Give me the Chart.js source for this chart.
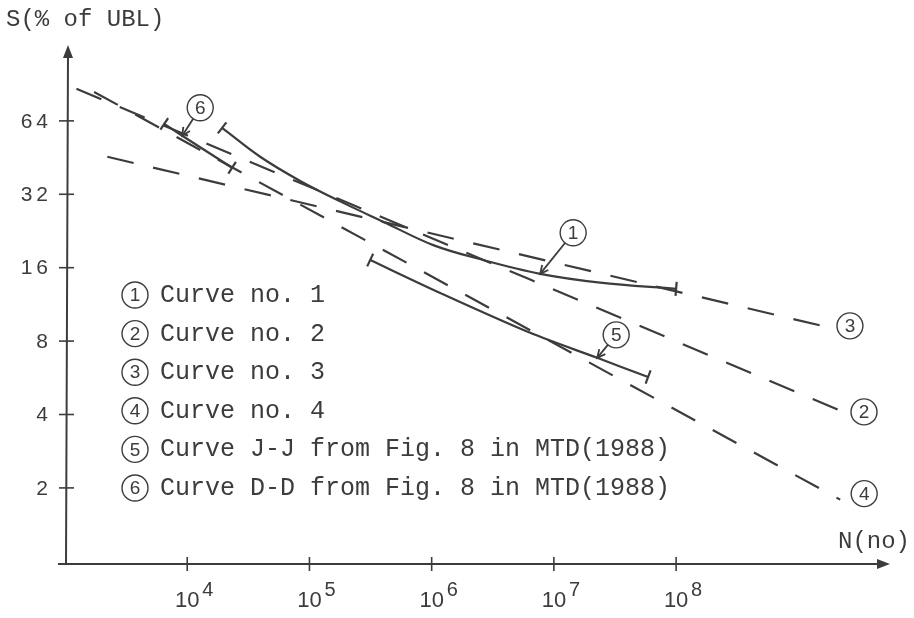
<!DOCTYPE html>
<html>
<head>
<meta charset="utf-8">
<script src="https://cdn.jsdelivr.net/npm/chart.js@4/dist/chart.umd.min.js"></script>
<style>
  html, body { margin: 0; padding: 0; background: #fff; }
</style>
</head>
<body>
<canvas id="sn" width="914" height="618"></canvas>
<script>
// S-N curves: stress range S (% of UBL) against number of cycles N, log-log

// curve 1 (solid, design curve)
const N1 = [19300, 39500, 84000, 189000, 401000, 1030000, 2640000, 7720000, 23900000, 100000000];
const S1 = [59.9, 45.6, 36.3, 29.5, 24.7, 19.8, 17.2, 15.1, 13.9, 13.1];
// curves 2-4 (dashed, straight lines)
const N2 = [1240, 6400000, 2320000000];
const S2 = [86.6, 14.3, 4.10];
const N3 = [2220, 1560000000];
const S3 = [45.6, 9.24];
const N4 = [1730, 2200000000];
const S4 = [84.1, 1.79];
// curve J-J and D-D from MTD (1988)
const N5 = [314000, 1175000, 6400000, 22600000, 59000000];
const S5 = [17.2, 12.6, 8.65, 6.83, 5.70];
const N6 = [6490, 9100, 23300];
const S6 = [62.2, 55.6, 41.1];

const X_TICKS = [1e4, 1e5, 1e6, 1e7, 1e8];
const Y_TICKS = [2, 4, 8, 16, 32, 64];
const LEGEND = [
  'Curve no. 1',
  'Curve no. 2',
  'Curve no. 3',
  'Curve no. 4',
  'Curve J-J from Fig. 8 in MTD(1988)',
  'Curve D-D from Fig. 8 in MTD(1988)'
];

const INK = '#3c3c3c';
const MONO = '"Liberation Mono", "DejaVu Sans Mono", monospace';
const SANS = '"Liberation Sans", Arial, sans-serif';

// numbered callouts: which dataset/point they sit on and where the circle goes
const CALLOUTS = [
  { num: '1', ds: 0, idx: 7, dx: 33, dy: -41, arrow: true },
  { num: '2', ds: 1, idx: -1, dx: 21, dy: 0 },
  { num: '3', ds: 2, idx: -1, dx: 28, dy: 0 },
  { num: '4', ds: 3, idx: -1, dx: 24, dy: -6 },
  { num: '5', ds: 4, idx: 3, dx: 19, dy: -23, arrow: true },
  { num: '6', ds: 5, idx: 1, dx: 18, dy: -28, arrow: true }
];

const pts = (N, S) => N.map((n, i) => ({ x: n, y: S[i] }));

// end bars sit perpendicular to the curve
function capRotation(ctx) {
  const d = ctx.dataset.data, i = ctx.dataIndex, n = d.length;
  const { x, y } = ctx.chart.scales;
  const p = i === 0 ? d[0] : d[n - 2];
  const q = i === 0 ? d[1] : d[n - 1];
  const a = Math.atan2(y.getPixelForValue(q.y) - y.getPixelForValue(p.y),
                       x.getPixelForValue(q.x) - x.getPixelForValue(p.x));
  return a * 180 / Math.PI + 90;
}
const capRadius = ctx => (ctx.dataIndex === 0 || ctx.dataIndex === ctx.dataset.data.length - 1) ? 7 : 0;

function solid(N, S, tension) {
  return {
    data: pts(N, S), borderColor: INK, borderWidth: 2.2, tension,
    pointStyle: 'line', pointRadius: capRadius, pointBorderWidth: 2.2,
    pointBorderColor: INK, pointRotation: capRotation
  };
}
function dashed(N, S) {
  return {
    data: pts(N, S), borderColor: INK, borderWidth: 2.2, borderDash: [27, 20],
    pointRadius: 0, tension: 0
  };
}

function circled(ctx, cx, cy, num, r) {
  ctx.beginPath();
  ctx.arc(cx, cy, r, 0, Math.PI * 2);
  ctx.lineWidth = 1.4;
  ctx.strokeStyle = INK;
  ctx.stroke();
  ctx.fillStyle = INK;
  ctx.font = '19px ' + SANS;
  ctx.textAlign = 'center';
  ctx.textBaseline = 'middle';
  ctx.fillText(num, cx, cy + 1);
}

const paperAxes = {
  id: 'paperAxes',
  beforeDatasetsDraw(chart) {
    const { ctx } = chart;
    const xs = chart.scales.x, ys = chart.scales.y;
    const x0 = xs.getPixelForValue(xs.min) + 1, y0 = ys.getPixelForValue(ys.min);
    const xEnd = xs.getPixelForValue(xs.max), yEnd = ys.getPixelForValue(ys.max);
    ctx.save();
    ctx.strokeStyle = INK;
    ctx.fillStyle = INK;
    ctx.lineWidth = 2;
    ctx.beginPath();
    ctx.moveTo(x0 - 8, y0); ctx.lineTo(xEnd - 8, y0);
    ctx.moveTo(x0, y0); ctx.lineTo(x0 + 2, yEnd + 8);
    ctx.stroke();
    // arrow heads
    ctx.beginPath();
    ctx.moveTo(xEnd, y0); ctx.lineTo(xEnd - 13, y0 - 5); ctx.lineTo(xEnd - 13, y0 + 5); ctx.closePath();
    ctx.fill();
    ctx.beginPath();
    ctx.moveTo(x0 + 2, yEnd); ctx.lineTo(x0 - 3, yEnd + 13); ctx.lineTo(x0 + 7, yEnd + 13); ctx.closePath();
    ctx.fill();

    ctx.lineWidth = 1.6;
    ctx.font = '21px ' + SANS;
    ctx.letterSpacing = '4px';
    ctx.textAlign = 'right';
    ctx.textBaseline = 'middle';
    Y_TICKS.forEach(v => {
      const py = ys.getPixelForValue(v);
      ctx.beginPath(); ctx.moveTo(x0 - 7, py); ctx.lineTo(x0 + 8, py); ctx.stroke();
      ctx.fillText(String(v), x0 - 14, py + 1);
    });
    ctx.letterSpacing = '0px';
    X_TICKS.forEach(v => {
      const px = xs.getPixelForValue(v);
      ctx.beginPath(); ctx.moveTo(px, y0 - 7); ctx.lineTo(px, y0 + 7); ctx.stroke();
      ctx.textAlign = 'center';
      ctx.textBaseline = 'alphabetic';
      ctx.font = '22px ' + SANS;
      ctx.fillText('10', px, 607);
      ctx.textAlign = 'left';
      ctx.font = '20px ' + SANS;
      ctx.fillText(String(Math.round(Math.log10(v))), px + 15, 596);
    });

    ctx.font = '24px ' + MONO;
    ctx.textAlign = 'left';
    ctx.fillText('S(% of UBL)', 6, 26);
    ctx.textAlign = 'right';
    ctx.fillText('N(no)', 910, 548);
    ctx.restore();
  },
  afterDatasetsDraw(chart) {
    const { ctx } = chart;
    ctx.save();
    CALLOUTS.forEach(c => {
      const meta = chart.getDatasetMeta(c.ds);
      const el = meta.data[c.idx < 0 ? meta.data.length - 1 : c.idx];
      const cx = el.x + c.dx, cy = el.y + c.dy, r = 13;
      circled(ctx, cx, cy, c.num, r);
      if (c.arrow) {
        const a = Math.atan2(el.y - cy, el.x - cx);
        const sx = cx + r * Math.cos(a), sy = cy + r * Math.sin(a);
        ctx.beginPath();
        ctx.moveTo(sx, sy); ctx.lineTo(el.x, el.y);
        ctx.lineWidth = 1.8;
        ctx.stroke();
        ctx.beginPath();
        ctx.moveTo(el.x - 9 * Math.cos(a - 0.45), el.y - 9 * Math.sin(a - 0.45));
        ctx.lineTo(el.x, el.y);
        ctx.lineTo(el.x - 9 * Math.cos(a + 0.45), el.y - 9 * Math.sin(a + 0.45));
        ctx.stroke();
      }
    });
    // legend block
    LEGEND.forEach((t, i) => {
      const y = 302 + i * 38.6;
      circled(ctx, 135, y - 7, String(i + 1), 13);
      ctx.font = '25px ' + MONO;
      ctx.textAlign = 'left';
      ctx.textBaseline = 'alphabetic';
      ctx.fillStyle = INK;
      ctx.fillText(t, 160, y);
    });
    ctx.restore();
  }
};

new Chart(document.getElementById('sn'), {
  type: 'line',
  data: {
    datasets: [
      solid(N1, S1, 0.35),
      dashed(N2, S2),
      dashed(N3, S3),
      dashed(N4, S4),
      solid(N5, S5, 0.3),
      solid(N6, S6, 0)
    ]
  },
  options: {
    responsive: false,
    animation: false,
    devicePixelRatio: 1,
    layout: { padding: { left: 65, right: 24, top: 45, bottom: 54 } },
    plugins: { legend: { display: false }, tooltip: { enabled: false } },
    scales: {
      x: { type: 'logarithmic', min: 1000, max: Math.pow(10, 9.75), display: false },
      y: { type: 'logarithmic', min: 0.975, max: 131, display: false }
    }
  },
  plugins: [paperAxes]
});
</script>
</body>
</html>
